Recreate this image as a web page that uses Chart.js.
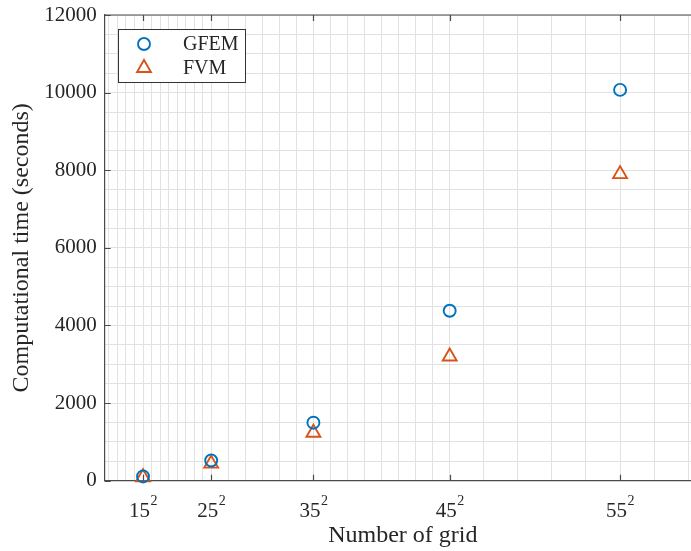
<!DOCTYPE html>
<html>
<head>
<meta charset="utf-8">
<script src="https://cdn.jsdelivr.net/npm/chart.js@4.4.1/dist/chart.umd.min.js"></script>
<style>
  html, body { margin: 0; padding: 0; background: #fff; overflow: hidden; }
  #wrap { width: 720px; height: 551px; }
</style>
</head>
<body>
<div id="wrap"><canvas id="myChart" width="720" height="551"></canvas></div>
<script>
// data
const gridSizes = ["15", "25", "35", "45", "55"]; // tick labels, shown as n^2
const xValues = [225, 625, 1225, 2025, 3025]; // number of grid cells
const gfemTime = [110, 520, 1495, 4380, 10070];
const fvmTime = [90, 440, 1235, 3200, 7900];
const yTickValues = [0, 2000, 4000, 6000, 8000, 10000, 12000];
const seriesNames = ["GFEM", "FVM"];

const serif = "'Liberation Serif', 'Times New Roman', serif";
const textColor = "#262626";
const axisColor = "#4a4a4a";
const gridColor = "#e2e2e2";
const blue = "#0072BD";
const orange = "#D95319";

const xMin = 0, xMax = 3500;
// minor grid spacing inside each interval between major ticks (like MATLAB did it)
const xMinorStep = [50, 50, 100, 100, 200, 200];

function xGridValues() {
  const bounds = [xMin, ...xValues, xMax];
  const out = [];
  for (let i = 0; i < bounds.length - 1; i++) {
    const a = bounds[i], b = bounds[i + 1], s = xMinorStep[i];
    if (i === 0) {
      for (let v = b - s; v > a; v -= s) out.push(v);
    } else {
      for (let v = a; v < b; v += s) out.push(v);
    }
  }
  return out.sort((p, q) => p - q);
}

// top border, inward tick marks, x labels with exponent, legend box
const matlabAxes = {
  id: "matlabAxes",
  afterDraw(chart) {
    const ctx = chart.ctx;
    const xs = chart.scales.x, ys = chart.scales.y, area = chart.chartArea;
    ctx.save();
    ctx.strokeStyle = axisColor;
    ctx.lineWidth = 1.2;
    ctx.beginPath();
    ctx.moveTo(area.left, area.top);
    ctx.lineTo(area.right, area.top);
    ctx.stroke();

    ctx.beginPath();
    xValues.forEach((v) => {
      const px = Math.round(xs.getPixelForValue(v)) + 0.5;
      ctx.moveTo(px, area.bottom);
      ctx.lineTo(px, area.bottom - 6);
      ctx.moveTo(px, area.top);
      ctx.lineTo(px, area.top + 6);
    });
    yTickValues.forEach((v) => {
      const py = Math.round(ys.getPixelForValue(v)) + 0.5;
      ctx.moveTo(area.left, py);
      ctx.lineTo(area.left + 6, py);
    });
    ctx.stroke();

    // x tick labels: 15^2 etc.
    ctx.fillStyle = textColor;
    ctx.textBaseline = "alphabetic";
    ctx.textAlign = "left";
    gridSizes.forEach((g, i) => {
      const px = xs.getPixelForValue(xValues[i]);
      ctx.font = "21px " + serif;
      const w1 = ctx.measureText(g).width;
      ctx.font = "14px " + serif;
      const w2 = ctx.measureText("2").width;
      const start = px - (w1 + w2) / 2;
      ctx.font = "21px " + serif;
      ctx.fillText(g, start, 517);
      ctx.font = "14px " + serif;
      ctx.fillText("2", start + w1 + 0.5, 505);
    });

    // legend
    ctx.fillStyle = "#fff";
    ctx.fillRect(118.5, 29.5, 127, 53);
    ctx.strokeStyle = "#333";
    ctx.lineWidth = 1;
    ctx.strokeRect(118.5, 29.5, 127, 53);
    const items = [
      { label: seriesNames[0], style: "circle", radius: 6, color: blue, y: 44 },
      { label: seriesNames[1], style: "triangle", radius: 8, color: orange, y: 68 },
    ];
    items.forEach((it) => {
      ctx.strokeStyle = it.color;
      ctx.fillStyle = "rgba(0,0,0,0)";
      ctx.lineWidth = 1.9;
      Chart.helpers.drawPoint(ctx, { pointStyle: it.style, radius: it.radius, borderWidth: 1.9, rotation: 0 }, 144, it.y);
      ctx.fillStyle = textColor;
      ctx.font = "20px " + serif;
      ctx.textBaseline = "middle";
      ctx.fillText(it.label, 183, it.y + 1);
    });
    ctx.restore();
  },
};

const ctx = document.getElementById("myChart");
new Chart(ctx, {
  type: "scatter",
  data: {
    datasets: [
      {
        label: seriesNames[0],
        data: xValues.map((x, i) => ({ x: x, y: gfemTime[i] })),
        pointStyle: "circle",
        pointRadius: 6,
        pointBorderWidth: 1.9,
        borderColor: blue,
        backgroundColor: "rgba(0,0,0,0)",
        clip: false,
      },
      {
        label: seriesNames[1],
        data: xValues.map((x, i) => ({ x: x, y: fvmTime[i] })),
        pointStyle: "triangle",
        pointRadius: 8,
        pointBorderWidth: 1.9,
        borderColor: orange,
        backgroundColor: "rgba(0,0,0,0)",
        clip: false,
      },
    ],
  },
  options: {
    responsive: false,
    animation: false,
    devicePixelRatio: 1,
    layout: { padding: { left: 0, top: 15, right: 19, bottom: 0 } },
    plugins: { legend: { display: false }, tooltip: { enabled: false } },
    scales: {
      x: {
        type: "linear",
        min: xMin,
        max: xMax,
        afterBuildTicks: (scale) => {
          scale.ticks = xGridValues().map((v) => ({ value: v }));
        },
        afterFit: (scale) => {
          scale.height = 70.3;
          scale.paddingLeft = 0;
          scale.paddingRight = 0;
        },
        ticks: { display: false },
        grid: { color: gridColor, lineWidth: 1, drawTicks: false },
        border: { display: true, color: axisColor, width: 1.2 },
        title: {
          display: true,
          text: "Number of grid",
          color: textColor,
          font: { family: serif, size: 24 },
          padding: { top: 0, bottom: 1 },
        },
      },
      y: {
        type: "linear",
        min: 0,
        max: 12000,
        afterBuildTicks: (scale) => {
          const t = [];
          for (let v = 0; v <= 12000; v += 500) t.push({ value: v });
          scale.ticks = t;
        },
        afterFit: (scale) => {
          scale.width = 104.7;
          scale.paddingTop = 0;
          scale.paddingBottom = 0;
        },
        ticks: {
          autoSkip: false,
          padding: 8,
          color: textColor,
          font: { family: serif, size: 21 },
          callback: (v) => (yTickValues.includes(v) ? String(v) : ""),
        },
        grid: { color: gridColor, lineWidth: 1, drawTicks: false },
        border: { display: true, color: axisColor, width: 1.2 },
        title: {
          display: true,
          text: "Computational time (seconds)",
          color: textColor,
          font: { family: serif, size: 24 },
          padding: { top: 7, bottom: 0 },
        },
      },
    },
  },
  plugins: [matlabAxes],
});
</script>
</body>
</html>
